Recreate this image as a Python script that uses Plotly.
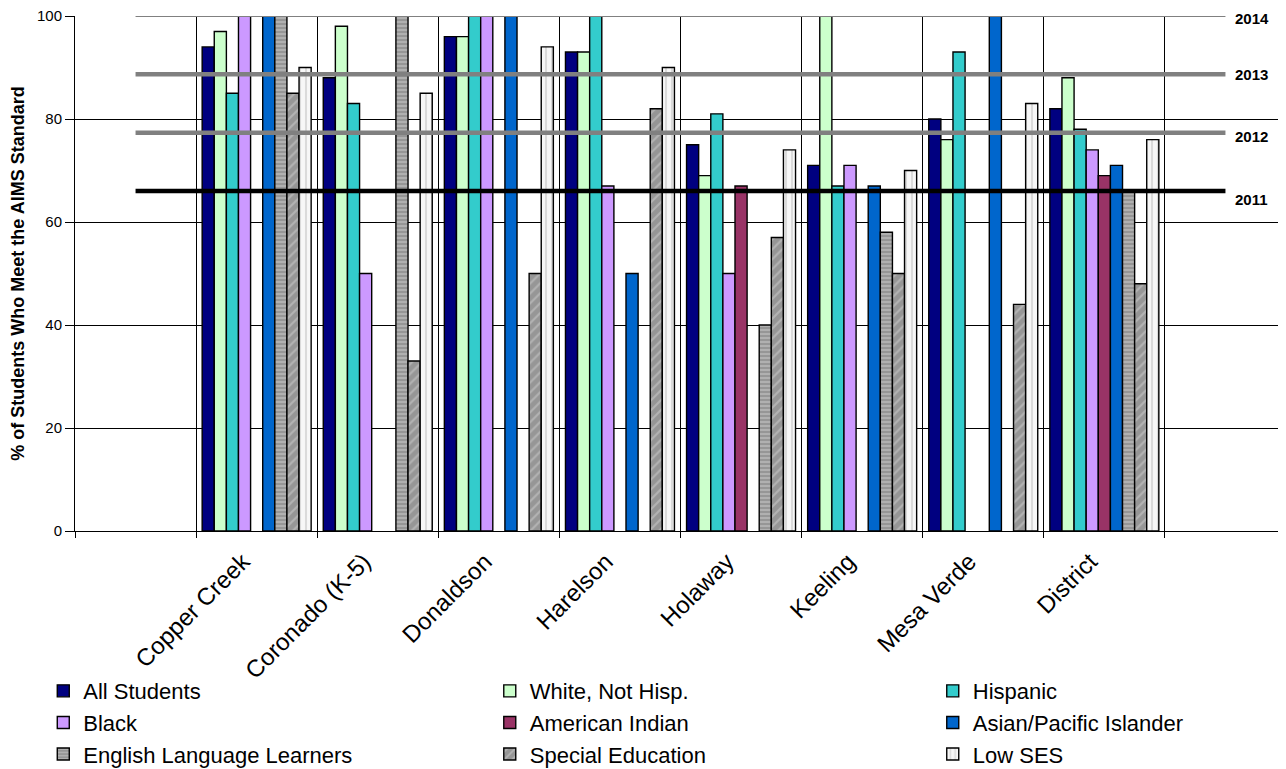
import plotly.graph_objects as go

# Category slots: a blank slot at each end (used by the target lines), schools in between
categories = ["\u200b", "Copper Creek", "Coronado (K-5)", "Donaldson", "Harelson",
              "Holaway", "Keeling", "Mesa Verde", "District", "\u200b\u200b"]
schools = categories[1:-1]

all_students = [94, 88, 96, 93, 75, 71, 80, 82]
white_not_hisp = [97, 98, 96, 93, 69, 100, 76, 88]
hispanic = [85, 83, 100, 100, 81, 67, 93, 78]
black = [100, 50, 100, 67, 50, 71, None, 74]
american_indian = [None, None, None, None, 67, None, None, 69]
asian_pi = [100, None, 100, 50, None, 67, 100, 71]
ell = [100, 100, None, None, 40, 58, None, 66]
special_ed = [85, 33, 50, 82, 57, 50, 44, 48]
low_ses = [90, 85, 94, 90, 74, 70, 83, 76]

series_names = ["All Students", "White, Not Hisp.", "Hispanic", "Black", "American Indian",
                "Asian/Pacific Islander", "English Language Learners", "Special Education", "Low SES"]
series_values = [all_students, white_not_hisp, hispanic, black, american_indian,
                 asian_pi, ell, special_ed, low_ses]

# AIMS target lines
target_years = ["2014", "2013", "2012", "2011"]
target_values = [100, 88.67, 77.33, 66]

FONT = "Liberation Sans, Arial, sans-serif"

styles = [
    dict(color="#000080"),
    dict(color="#CCFFCC"),
    dict(color="#33CCCC"),
    dict(color="#CC99FF"),
    dict(color="#993366"),
    dict(color="#0066CC"),
    dict(color="#969696", pattern=dict(shape="-", fgcolor="#D0D0D0", bgcolor="#969696", size=4, solidity=0.45)),
    dict(color="#969696", pattern=dict(shape="/", fgcolor="#D0D0D0", bgcolor="#969696", size=7, solidity=0.3)),
    dict(color="#F2F2F2", pattern=dict(shape="|", fgcolor="#BDBDBD", bgcolor="#F7F7F7", size=6, solidity=0.35)),
]

legend_ids = ["legend", "legend2", "legend3"]

fig = go.Figure()
for i, (name, vals, st) in enumerate(zip(series_names, series_values, styles)):
    marker = dict(color=st["color"], line=dict(color="black", width=1.4))
    if "pattern" in st:
        marker["pattern"] = st["pattern"]
    fig.add_trace(go.Bar(x=schools, y=vals, name=name, marker=marker,
                         legend=legend_ids[i % 3]))

line_styles = {
    "2014": dict(color="#808080", width=2),
    "2013": dict(color="#808080", width=4.5),
    "2012": dict(color="#808080", width=4.5),
    "2011": dict(color="#000000", width=4.5),
}
label_yshift = {"2014": -2, "2013": 0, "2012": -4, "2011": -8}
for yr, val in zip(target_years, target_values):
    fig.add_trace(go.Scatter(
        x=[categories[0], categories[-1]], y=[val, val],
        mode="lines", line=line_styles[yr], showlegend=False, hoverinfo="skip",
    ))
    fig.add_annotation(
        x=categories[-1], y=val, text=yr, showarrow=False,
        xanchor="left", yanchor="middle", xshift=8, yshift=label_yshift[yr],
        font=dict(family=FONT, size=15, color="black", weight="bold"),
    )

legend_common = dict(
    orientation="v", xanchor="left", yanchor="top", y=-0.27,
    font=dict(family=FONT, size=22, color="black"),
    bgcolor="rgba(0,0,0,0)", traceorder="normal",
)

# page body has an 8px margin: figure is sized to fit the 1286x769 window
fig.update_layout(
    width=1278, height=761,
    margin=dict(l=67, r=0, t=8, b=238, autoexpand=False),
    plot_bgcolor="white", paper_bgcolor="white",
    barmode="group", bargap=0.1, bargroupgap=0,
    font=dict(family=FONT, color="black"),
    legend=dict(x=-0.0262, **legend_common),
    legend2=dict(x=0.3425, **legend_common),
    legend3=dict(x=0.7083, **legend_common),
    xaxis=dict(
        type="category", categoryorder="array", categoryarray=categories,
        range=[-0.5, 9.5], tickson="boundaries", ticks="outside", ticklen=6,
        tickcolor="black", showgrid=True, gridcolor="black", gridwidth=1,
        showline=True, linecolor="black", linewidth=1, automargin=False,
        tickangle=-45, tickfont=dict(family=FONT, size=24, color="black"),
        ticklabelstandoff=6, ticklabelshift=-14,
    ),
    yaxis=dict(
        range=[0, 100], tickvals=[0, 20, 40, 60, 80, 100], ticks="outside", ticklen=9,
        tickcolor="black", showgrid=False, ticklabeloverflow="allow",
        minor=dict(tickvals=[20, 40, 60, 80], showgrid=True, gridcolor="black", gridwidth=1, ticks=""),
        showline=True, linecolor="black", linewidth=1, zeroline=False, automargin=False,
        tickfont=dict(family=FONT, size=15, color="black"),
        title=dict(text="% of Students Who Meet the AIMS Standard",
                   font=dict(family=FONT, size=18, color="black", weight="bold"), standoff=9),
    ),
)

fig.write_html("out.html")
